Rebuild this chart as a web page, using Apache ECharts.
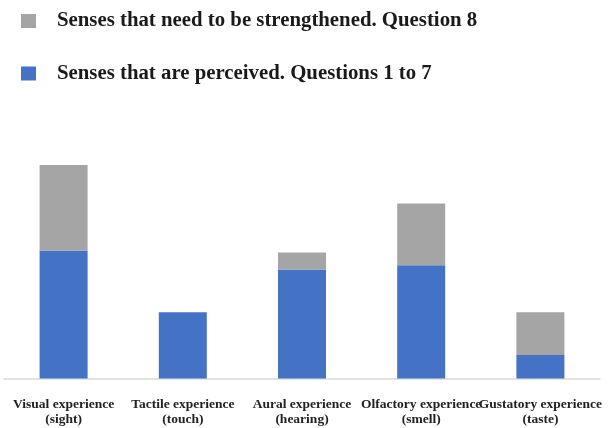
<!DOCTYPE html>
<html>
<head>
<meta charset="utf-8">
<script src="https://cdn.jsdelivr.net/npm/echarts@6/dist/echarts.min.js"></script>
<style>
  html, body { margin: 0; padding: 0; background: #fff; }
  #chart { width: 614px; height: 428px; }
</style>
</head>
<body>
<div id="chart"></div>
<script>
// Sense categories along the x axis
const categories = [
  'Visual experience\n(sight)',
  'Tactile experience\n(touch)',
  'Aural experience\n(hearing)',
  'Olfactory experience\n(smell)',
  'Gustatory experience\n(taste)'
];
// Senses perceived (questions 1 to 7) – bottom of each stack
const perceived = [60, 31, 51, 53, 11];
// Senses that need strengthening (question 8) – stacked on top
const strengthen = [40, 0, 8, 29, 20];

const nameStrengthen = 'Senses that need to be strengthened. Question 8';
const namePerceived = 'Senses that are perceived. Questions 1 to 7';

const serif = '"Liberation Serif", "Times New Roman", serif';

const chart = echarts.init(document.getElementById('chart'), null, { renderer: 'canvas' });
chart.setOption({
  animation: false,
  backgroundColor: '#ffffff',
  legend: {
    orient: 'vertical',
    left: 16,
    top: 5,
    itemWidth: 15,
    itemHeight: 14,
    itemGap: 30.5,
    icon: 'rect',
    data: [nameStrengthen, namePerceived],
    textStyle: {
      fontFamily: serif,
      fontWeight: 'bold',
      fontSize: 20.8,
      lineHeight: 22,
      color: '#1a1a1a',
      padding: [0, 0, 0, 16]
    }
  },
  grid: { left: 4, right: 14, top: 165, bottom: 49.5, containLabel: false },
  xAxis: {
    type: 'category',
    data: categories,
    axisLine: { show: true, lineStyle: { color: '#d9d9d9', width: 1.5 } },
    axisTick: { show: false },
    axisLabel: {
      interval: 0,
      margin: 19,
      fontFamily: serif,
      fontWeight: 'bold',
      fontSize: 13.5,
      lineHeight: 15,
      color: '#222222'
    }
  },
  yAxis: {
    type: 'value',
    min: 0,
    max: 100,
    show: false,
    splitLine: { show: false }
  },
  series: [
    {
      name: namePerceived,
      type: 'bar',
      stack: 'senses',
      barWidth: 48,
      itemStyle: { color: '#4472c4' },
      data: perceived
    },
    {
      name: nameStrengthen,
      type: 'bar',
      stack: 'senses',
      barWidth: 48,
      itemStyle: { color: '#a5a5a5' },
      data: strengthen
    }
  ]
});
</script>
</body>
</html>
